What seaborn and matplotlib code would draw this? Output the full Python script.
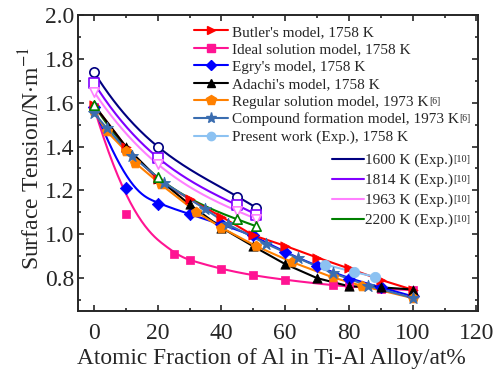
import numpy as np
import matplotlib
matplotlib.use("Agg")
import matplotlib.pyplot as plt
import seaborn as sns
from matplotlib.lines import Line2D

# ---------------- data ----------------
butler_x = [0, 10, 20, 30, 40, 50, 60, 70, 80, 90, 100]
butler_y = [1.59, 1.40, 1.25, 1.16, 1.08, 0.995, 0.947, 0.894, 0.844, 0.792, 0.747]

ideal_x = [0, 10, 25, 30, 40, 50, 60, 75, 80, 90, 100]
ideal_y = [1.58, 1.094, 0.909, 0.882, 0.841, 0.812, 0.792, 0.767, 0.762, 0.752, 0.745]

egry_x = [0, 10, 20, 30, 40, 50, 60, 70, 80, 90, 100]
egry_y = [1.58, 1.209, 1.14, 1.092, 1.045, 0.995, 0.917, 0.856, 0.797, 0.758, 0.717]

adachi_x = [0, 10, 20, 30, 40, 50, 60, 70, 80, 90, 100]
adachi_y = [1.59, 1.40, 1.255, 1.136, 1.03, 0.945, 0.864, 0.80, 0.763, 0.758, 0.748]

regular_x = [0, 4, 10, 13, 21, 32, 40, 51, 62, 75, 84, 100]
regular_y = [1.56, 1.47, 1.38, 1.325, 1.227, 1.103, 1.03, 0.945, 0.874, 0.803, 0.765, 0.709]

compound_x = [0, 4, 12, 22, 35, 42, 54, 64, 75, 86, 100]
compound_y = [1.553, 1.485, 1.356, 1.235, 1.114, 1.045, 0.957, 0.891, 0.823, 0.765, 0.710]

present_x = [72.5, 81.5, 88.3]
present_y = [0.862, 0.828, 0.806]

exp_x = [0, 20, 45, 51]
exp1600_y = [1.74, 1.40, 1.172, 1.12]
exp1814_y = [1.69, 1.35, 1.132, 1.09]
exp1963_y = [1.65, 1.32, 1.106, 1.07]
exp2200_y = [1.59, 1.26, 1.068, 1.036]

xticks = [0, 20, 40, 60, 80, 100, 120]
yticks = [0.8, 1.0, 1.2, 1.4, 1.6, 1.8, 2.0]

legend1_labels = ["Butler's model, 1758 K", "Ideal solution model, 1758 K",
                  "Egry's model, 1758 K", "Adachi's model, 1758 K",
                  "Regular solution model, 1973 K", "Compound formation model, 1973 K",
                  "Present work (Exp.), 1758 K"]
legend1_sups = ["", "", "", "", "[6]", "[6]", ""]
legend2_labels = ["1600 K (Exp.)", "1814 K (Exp.)", "1963 K (Exp.)", "2200 K (Exp.)"]
legend2_sups = ["[10]", "[10]", "[10]", "[10]"]

# ---------------- helpers ----------------
def bspline(xs, ys, n=300, k=3):
    P = np.column_stack([xs, ys]).astype(float)
    m = len(P)
    knots = np.concatenate([np.zeros(k), np.linspace(0, 1, m - k + 1), np.ones(k)])
    t = np.linspace(0, 1, n)
    t[-1] -= 1e-10
    N = np.zeros((n, len(knots) - 1))
    for i in range(len(knots) - 1):
        N[:, i] = (t >= knots[i]) & (t < knots[i + 1])
    for d in range(1, k + 1):
        Nn = np.zeros((n, len(knots) - 1 - d))
        for i in range(len(knots) - 1 - d):
            a = knots[i + d] - knots[i]
            b = knots[i + d + 1] - knots[i + 1]
            term = np.zeros(n)
            if a > 0:
                term += (t - knots[i]) / a * N[:, i]
            if b > 0:
                term += (knots[i + d + 1] - t) / b * N[:, i + 1]
            Nn[:, i] = term
        N = Nn
    C = N @ P
    return C[:, 0], C[:, 1]

def smooth_interp(xs, ys, n=200):
    c = np.polyfit(xs, ys, len(xs) - 1)
    xx = np.linspace(min(xs), max(xs), n)
    return xx, np.polyval(c, xx)

# ---------------- style ----------------
sns.set_theme(style="ticks")
plt.rcParams["font.family"] = ["Liberation Serif", "DejaVu Serif"]
plt.rcParams["mathtext.fontset"] = "stix"
plt.rcParams["axes.linewidth"] = 1.4

W, H = 503, 374
fig = plt.figure(figsize=(W / 100, H / 100), dpi=100)
ax = fig.add_axes([78 / W, 1 - 311 / H, 400 / W, 296 / H])

lw = 1.5
ms = 6

c_butler = "#FF0000"
c_ideal = "#FF1493"
c_egry = "#0000FF"
c_adachi = "#000000"
c_regular = "#FF8000"
c_compound = "#3A6DB0"
c_present = "#8CC2F2"
c_1600 = "#000080"
c_1814 = "#8000FF"
c_1963 = "#FF80FF"
c_2200 = "#008000"

# experimental (smooth curves through points, open markers)
for y, col, mk in [(exp1600_y, c_1600, "o"), (exp1814_y, c_1814, "s"),
                   (exp1963_y, c_1963, "v"), (exp2200_y, c_2200, "^")]:
    xx, yy = smooth_interp(exp_x, y)
    sns.lineplot(x=xx, y=yy, ax=ax, color=col, lw=lw, sort=False)
    sns.scatterplot(x=exp_x, y=y, ax=ax, marker=mk, s=45, facecolor="white",
                    edgecolor=col, linewidth=1.2, zorder=5)

# ideal & Egry with B-spline connection
for xs, ys, col, mk in [(ideal_x, ideal_y, c_ideal, "s"), (egry_x, egry_y, c_egry, "D")]:
    bx, by = bspline(xs, ys)
    sns.lineplot(x=bx, y=by, ax=ax, color=col, lw=lw, sort=False)
    sns.scatterplot(x=xs, y=ys, ax=ax, marker=mk, s=40, color=col, edgecolor=col, zorder=4)

for xs, ys, col, mk, s in [(butler_x, butler_y, c_butler, ">", 45),
                           (adachi_x, adachi_y, c_adachi, "^", 45),
                           (regular_x, regular_y, c_regular, "p", 60),
                           (compound_x, compound_y, c_compound, "*", 80),
                           (present_x, present_y, c_present, "o", 55)]:
    sns.lineplot(x=xs, y=ys, ax=ax, color=col, lw=lw, sort=False)
    sns.scatterplot(x=xs, y=ys, ax=ax, marker=mk, s=s, color=col, edgecolor=col, zorder=4)

ax.set_xlim(-5, 120.5)
ax.set_ylim(0.65, 2.0)
ax.set_xticks(xticks)
ax.set_yticks(yticks)
ax.set_xticklabels([str(v) for v in xticks])
ax.set_yticklabels([f"{v:.1f}" for v in yticks])
ax.set_xticks(np.arange(0, 121, 10), minor=True)
ax.set_yticks(np.arange(0.7, 2.0, 0.1), minor=True)
ax.tick_params(which="both", direction="in", top=True, right=True, labelsize=17, width=1.2)
ax.tick_params(which="major", length=4.5)
ax.tick_params(which="minor", length=2.5)
ax.tick_params(axis="x", which="major", pad=8.5)
ax.tick_params(axis="y", which="major", pad=2.5)

ax.set_xlabel("Atomic Fraction of Al in Ti-Al Alloy/at%", fontsize=16.8)
ax.set_ylabel(r"Surface Tension/N$\cdot$m$^{-1}$", fontsize=17)
ax.xaxis.set_label_coords(0.4825, -0.125)
ax.yaxis.set_label_coords(-0.085, 0.515)

# legends
h1 = [Line2D([], [], color=c_butler, marker=">", lw=lw, ms=ms),
      Line2D([], [], color=c_ideal, marker="s", lw=lw, ms=ms - 0.5),
      Line2D([], [], color=c_egry, marker="D", lw=lw, ms=ms - 0.5),
      Line2D([], [], color=c_adachi, marker="^", lw=lw, ms=ms),
      Line2D([], [], color=c_regular, marker="p", lw=lw, ms=ms + 1),
      Line2D([], [], color=c_compound, marker="*", lw=lw, ms=ms + 2),
      Line2D([], [], color=c_present, marker="o", lw=lw, ms=ms)]
leg1 = ax.legend(h1, legend1_labels, loc="upper left", bbox_to_anchor=(0.29, 0.966),
                 frameon=False, fontsize=11, handlelength=2.2, handletextpad=0.3,
                 labelspacing=0.25, borderpad=0, borderaxespad=0)
ax.add_artist(leg1)

h2 = [Line2D([], [], color=c, lw=lw) for c in (c_1600, c_1814, c_1963, c_2200)]
leg2 = ax.legend(h2, legend2_labels, loc="upper left", bbox_to_anchor=(0.635, 0.532),
                 frameon=False, fontsize=11, handlelength=2.1, handletextpad=0.05,
                 labelspacing=0.4, borderpad=0, borderaxespad=0)

# superscripts on legend entries
fig.canvas.draw()
rend = fig.canvas.get_renderer()
for leg, sups, fs in [(leg1, legend1_sups, 7), (leg2, legend2_sups, 7.5)]:
    for txt, sup in zip(leg.get_texts(), sups):
        if not sup:
            continue
        bb = txt.get_window_extent(rend)
        fig.text((bb.x1 + 0.5) / W, (bb.y1 - 1) / H, sup, fontsize=fs,
                 ha="left", va="top", zorder=10)

fig.savefig("out.png", dpi=100)
